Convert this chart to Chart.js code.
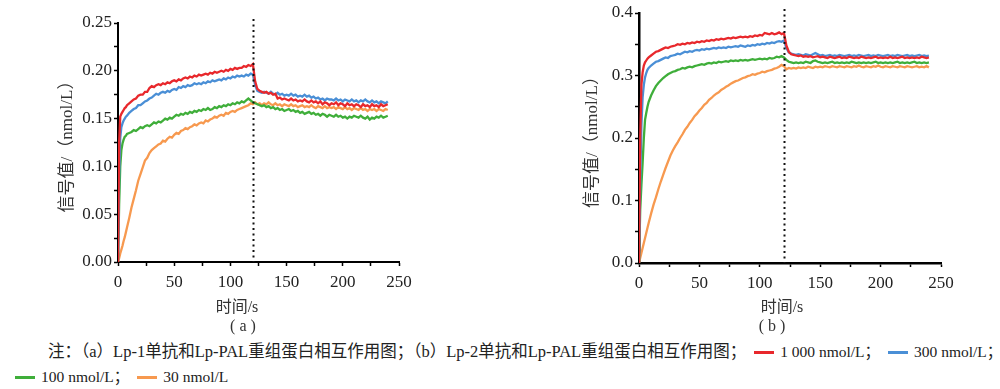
<!DOCTYPE html>
<html>
<head>
<meta charset="utf-8">
<script src="https://cdn.jsdelivr.net/npm/chart.js@4.4.1/dist/chart.umd.min.js"></script>
<style>
  body { margin:0; width:1000px; height:389px; background:#fff; position:relative; overflow:hidden;
         font-family:'Liberation Serif','Times New Roman','Noto Sans CJK SC',serif; color:#222; }
  canvas { position:absolute; top:0; }
  .lbl { position:absolute; transform:translate(-50%,-50%); font-size:16px; white-space:nowrap; color:#333; }
  .cap { position:absolute; font-size:16.5px; line-height:20px; white-space:nowrap; color:#222; }
  .cap .it { font-size:15.5px; }
  .sw { display:inline-block; width:20px; height:3px; vertical-align:middle; margin:0 6px 2px 8px; }
</style>
</head>
<body>
<canvas id="chartA" width="420" height="300" style="left:0px"></canvas>
<canvas id="chartB" width="440" height="300" style="left:520px"></canvas>
<div class="lbl" style="left:237px;top:305px">时间/s</div>
<div class="lbl" style="left:243px;top:326px">( a )</div>
<div class="lbl" style="left:782px;top:305px">时间/s</div>
<div class="lbl" style="left:772px;top:326px">( b )</div>
<div class="cap" id="cap1" style="left:48px;top:342px"></div>
<div class="cap" id="cap2" style="left:7px;top:367px"></div>
<script>
// time axis (s), shared by every curve
var times = [0,1,2,3,4,5,6,7,8,
  10,12,14,16,18,20,22,24,26,28, 30,32,34,36,38,40,42,44,46,48, 50,52,54,56,58,60,62,64,66,68,
  70,72,74,76,78,80,82,84,86,88, 90,92,94,96,98,100,102,104,106,108, 110,112,114,116,118,120,122,124,126,128,
  130,132,134,136,138,140,142,144,146,148, 150,152,154,156,158,160,162,164,166,168, 170,172,174,176,178,180,182,184,186,188,
  190,192,194,196,198,200,202,204,206,208, 210,212,214,216,218,220,222,224,226,228, 230,232,234,236,238,240];

var switchTime = 120;

var seriesLabels = ['1 000 nmol/L', '300 nmol/L', '100 nmol/L', '30 nmol/L'];
var seriesColors = ['#e8282c', '#4a8fd6', '#3fae3a', '#f7994f'];

// (a) Lp-1
var a1000 = [0,0.125,0.152,0.155,0.157,0.159,0.161,0.162,0.164,
  0.166,0.168,0.170,0.171,0.174,0.175,0.175,0.178,0.178,0.182,
  0.184,0.183,0.185,0.186,0.185,0.187,0.186,0.188,0.187,0.189,
  0.190,0.189,0.191,0.190,0.192,0.193,0.192,0.194,0.193,0.195,
  0.194,0.196,0.195,0.196,0.197,0.196,0.198,0.197,0.199,0.198,
  0.199,0.200,0.199,0.201,0.200,0.202,0.201,0.203,0.202,0.203,
  0.203,0.205,0.204,0.206,0.205,0.207,0.189,0.181,0.179,0.178,
  0.177,0.178,0.176,0.177,0.175,0.176,0.171,0.172,0.170,0.171,
  0.170,0.169,0.171,0.169,0.170,0.168,0.169,0.168,0.170,0.168,
  0.167,0.169,0.167,0.168,0.166,0.168,0.165,0.167,0.166,0.164,
  0.166,0.165,0.167,0.164,0.166,0.165,0.163,0.166,0.164,0.165,
  0.163,0.165,0.164,0.162,0.165,0.163,0.164,0.162,0.165,0.163,
  0.164,0.162,0.165,0.163,0.164,0.165];
var a300 = [0,0.090,0.130,0.141,0.145,0.148,0.150,0.152,0.153,
  0.156,0.158,0.160,0.161,0.164,0.164,0.166,0.168,0.169,0.171,
  0.172,0.174,0.176,0.175,0.177,0.178,0.177,0.179,0.178,0.180,
  0.181,0.180,0.183,0.182,0.184,0.183,0.185,0.184,0.185,0.187,
  0.186,0.187,0.186,0.188,0.187,0.189,0.188,0.190,0.189,0.190,
  0.191,0.190,0.192,0.191,0.193,0.192,0.194,0.193,0.195,0.194,
  0.195,0.194,0.196,0.195,0.197,0.196,0.185,0.179,0.178,0.177,
  0.178,0.177,0.176,0.178,0.176,0.175,0.177,0.175,0.176,0.174,
  0.175,0.174,0.176,0.174,0.175,0.173,0.174,0.173,0.175,0.173,
  0.174,0.172,0.173,0.171,0.172,0.170,0.171,0.169,0.171,0.170,
  0.170,0.169,0.171,0.169,0.170,0.168,0.170,0.169,0.168,0.170,
  0.168,0.169,0.167,0.169,0.168,0.170,0.168,0.167,0.169,0.167,
  0.168,0.166,0.168,0.167,0.166,0.168];
var a100 = [0,0.060,0.100,0.117,0.124,0.128,0.131,0.132,0.134,
  0.135,0.136,0.138,0.137,0.139,0.141,0.140,0.142,0.143,0.142,
  0.144,0.146,0.145,0.147,0.146,0.148,0.150,0.149,0.151,0.150,
  0.152,0.154,0.153,0.155,0.154,0.156,0.155,0.157,0.156,0.158,
  0.157,0.159,0.158,0.160,0.159,0.161,0.159,0.160,0.162,0.161,
  0.163,0.162,0.164,0.163,0.165,0.164,0.166,0.165,0.167,0.166,
  0.168,0.167,0.169,0.171,0.169,0.167,0.166,0.165,0.164,0.163,
  0.164,0.162,0.163,0.161,0.162,0.160,0.161,0.159,0.160,0.158,
  0.159,0.160,0.158,0.159,0.157,0.158,0.156,0.157,0.155,0.156,
  0.157,0.155,0.156,0.154,0.155,0.153,0.155,0.154,0.152,0.154,
  0.153,0.152,0.154,0.152,0.153,0.151,0.152,0.150,0.152,0.151,
  0.153,0.152,0.151,0.153,0.151,0.150,0.152,0.149,0.151,0.150,
  0.152,0.151,0.153,0.151,0.152,0.153];
var a30 = [0,0.004,0.009,0.013,0.017,0.022,0.026,0.031,0.036,
  0.046,0.057,0.066,0.075,0.085,0.092,0.099,0.106,0.109,0.114,
  0.117,0.119,0.121,0.123,0.124,0.127,0.126,0.129,0.131,0.130,
  0.133,0.135,0.134,0.137,0.138,0.140,0.139,0.141,0.142,0.144,
  0.143,0.145,0.146,0.145,0.148,0.147,0.149,0.150,0.152,0.151,
  0.153,0.154,0.153,0.156,0.155,0.157,0.158,0.157,0.159,0.160,
  0.161,0.162,0.163,0.164,0.166,0.165,0.167,0.165,0.166,0.164,
  0.166,0.165,0.167,0.165,0.164,0.166,0.164,0.165,0.163,0.165,
  0.164,0.163,0.165,0.163,0.164,0.162,0.163,0.164,0.162,0.163,
  0.162,0.164,0.162,0.161,0.163,0.162,0.161,0.163,0.161,0.162,
  0.161,0.162,0.160,0.162,0.161,0.160,0.162,0.160,0.161,0.159,
  0.161,0.160,0.159,0.161,0.159,0.160,0.158,0.160,0.159,0.160,
  0.158,0.160,0.159,0.158,0.160,0.159];

// (b) Lp-2
var b1000 = [0,0.200,0.285,0.305,0.316,0.321,0.324,0.327,0.329,
  0.332,0.335,0.338,0.339,0.341,0.343,0.345,0.344,0.346,0.347,
  0.348,0.350,0.349,0.351,0.350,0.352,0.351,0.353,0.352,0.354,
  0.353,0.355,0.354,0.356,0.355,0.357,0.356,0.358,0.357,0.359,
  0.358,0.359,0.360,0.359,0.361,0.360,0.361,0.362,0.361,0.362,
  0.361,0.363,0.362,0.364,0.363,0.365,0.364,0.368,0.367,0.366,
  0.368,0.366,0.367,0.369,0.366,0.368,0.348,0.338,0.334,0.333,
  0.332,0.331,0.332,0.330,0.331,0.330,0.331,0.329,0.330,0.331,
  0.329,0.330,0.329,0.328,0.330,0.329,0.328,0.329,0.330,0.328,
  0.329,0.328,0.330,0.329,0.328,0.329,0.328,0.330,0.329,0.328,
  0.329,0.328,0.329,0.330,0.328,0.329,0.328,0.329,0.328,0.330,
  0.328,0.329,0.328,0.329,0.330,0.328,0.329,0.328,0.329,0.328,
  0.329,0.328,0.330,0.329,0.328,0.329];
var b300 = [0,0.130,0.220,0.265,0.285,0.297,0.304,0.309,0.312,
  0.316,0.319,0.322,0.323,0.325,0.327,0.329,0.328,0.331,0.332,
  0.333,0.335,0.334,0.336,0.338,0.337,0.339,0.338,0.340,0.341,
  0.340,0.342,0.341,0.343,0.342,0.343,0.344,0.343,0.345,0.344,
  0.345,0.344,0.346,0.345,0.346,0.347,0.346,0.348,0.347,0.346,
  0.348,0.347,0.349,0.348,0.350,0.349,0.351,0.350,0.352,0.351,
  0.353,0.352,0.354,0.355,0.354,0.356,0.344,0.337,0.335,0.334,
  0.333,0.334,0.333,0.332,0.334,0.333,0.332,0.334,0.336,0.334,
  0.332,0.333,0.331,0.332,0.333,0.331,0.332,0.331,0.333,0.332,
  0.331,0.332,0.333,0.331,0.332,0.331,0.333,0.332,0.331,0.332,
  0.333,0.331,0.332,0.331,0.333,0.332,0.331,0.332,0.333,0.331,
  0.332,0.331,0.333,0.332,0.331,0.332,0.333,0.331,0.332,0.331,
  0.332,0.333,0.331,0.332,0.331,0.332];
var b100 = [0,0.085,0.125,0.160,0.200,0.229,0.240,0.250,0.258,
  0.268,0.276,0.283,0.288,0.292,0.296,0.299,0.302,0.304,0.306,
  0.307,0.309,0.310,0.312,0.311,0.313,0.314,0.313,0.315,0.316,
  0.317,0.318,0.317,0.319,0.320,0.319,0.321,0.320,0.322,0.321,
  0.322,0.323,0.322,0.324,0.323,0.324,0.323,0.325,0.324,0.325,
  0.324,0.325,0.326,0.325,0.326,0.327,0.326,0.327,0.326,0.328,
  0.327,0.328,0.330,0.329,0.331,0.329,0.325,0.322,0.321,0.320,
  0.321,0.320,0.321,0.320,0.322,0.321,0.320,0.323,0.324,0.322,
  0.321,0.320,0.321,0.320,0.321,0.322,0.320,0.321,0.320,0.321,
  0.320,0.321,0.320,0.322,0.321,0.320,0.321,0.320,0.321,0.320,
  0.321,0.320,0.321,0.322,0.320,0.321,0.320,0.321,0.320,0.321,
  0.320,0.321,0.322,0.320,0.321,0.320,0.321,0.320,0.321,0.322,
  0.320,0.321,0.320,0.321,0.320,0.321];
var b30 = [0,0.008,0.016,0.024,0.032,0.040,0.048,0.056,0.064,
  0.079,0.093,0.105,0.118,0.130,0.141,0.152,0.162,0.172,0.180,
  0.187,0.193,0.200,0.206,0.213,0.218,0.224,0.229,0.235,0.239,
  0.244,0.248,0.253,0.256,0.261,0.264,0.268,0.271,0.273,0.277,
  0.279,0.282,0.284,0.287,0.289,0.291,0.292,0.294,0.296,0.297,
  0.299,0.300,0.302,0.301,0.303,0.304,0.306,0.305,0.307,0.308,
  0.309,0.311,0.312,0.314,0.317,0.315,0.310,0.312,0.311,0.312,
  0.311,0.313,0.312,0.313,0.312,0.314,0.313,0.312,0.314,0.313,
  0.314,0.313,0.315,0.314,0.313,0.315,0.314,0.313,0.315,0.314,
  0.313,0.315,0.314,0.313,0.315,0.314,0.316,0.314,0.313,0.315,
  0.314,0.313,0.315,0.314,0.316,0.314,0.313,0.315,0.314,0.313,
  0.315,0.314,0.313,0.315,0.314,0.313,0.315,0.314,0.313,0.314,
  0.315,0.313,0.314,0.313,0.315,0.313];

var yTicksA = [0, 0.05, 0.10, 0.15, 0.20, 0.25];
var yTicksB = [0, 0.1, 0.2, 0.3, 0.4];
var xTicks = [0, 50, 100, 150, 200, 250];

var FONT = "'Liberation Serif','Times New Roman','Noto Sans CJK SC',serif";

function pts(vals) {
  return times.map(function (t, i) { return { x: t, y: vals[i] }; });
}

function isMajor(v, list) {
  return list.some(function (m) { return Math.abs(m - v) < 1e-6; });
}

var switchLine = {
  id: 'switchLine',
  afterDatasetsDraw: function (chart) {
    var ctx = chart.ctx, area = chart.chartArea;
    var x = Math.round(chart.scales.x.getPixelForValue(switchTime)) + 0.5;
    ctx.save();
    ctx.strokeStyle = '#111';
    ctx.lineWidth = 2;
    ctx.setLineDash([2, 3.5]);
    ctx.beginPath();
    ctx.moveTo(x, area.top - 4);
    ctx.lineTo(x, area.bottom);
    ctx.stroke();
    ctx.restore();
  }
};

function makeChart(id, data, yMax, yStep, yMajors, digits, box) {
  var sets = data.map(function (vals, i) {
    return {
      label: seriesLabels[i], data: pts(vals),
      borderColor: seriesColors[i], borderWidth: 2.3,
      pointRadius: 0, tension: 0, fill: false
    };
  });
  return new Chart(document.getElementById(id), {
    type: 'line',
    data: { datasets: sets },
    plugins: [switchLine],
    options: {
      responsive: false, animation: false,
      layout: { padding: { top: box.top, right: box.right, left: 0, bottom: 0 } },
      plugins: { legend: { display: false }, tooltip: { enabled: false } },
      scales: {
        x: {
          type: 'linear', min: 0, max: 250,
          afterFit: function (s) { s.height = box.xh; },
          border: { display: true, color: '#000', width: box.axisW },
          grid: { drawOnChartArea: false, drawTicks: true, tickLength: 4, tickColor: '#000', tickWidth: 1.5 },
          ticks: {
            stepSize: 25, padding: 6, color: '#222', maxRotation: 0, autoSkip: false,
            font: { family: FONT, size: 17 },
            callback: function (v) { return isMajor(v, xTicks) ? String(v) : ''; }
          }
        },
        y: {
          type: 'linear', min: 0, max: yMax,
          afterFit: function (s) { s.width = box.yw; },
          border: { display: true, color: '#000', width: box.axisW },
          grid: { drawOnChartArea: false, drawTicks: true, tickLength: 4, tickColor: '#000', tickWidth: 1.5 },
          ticks: {
            stepSize: yStep, padding: 2, color: '#222', autoSkip: false,
            font: { family: FONT, size: 17 },
            callback: function (v) { return isMajor(v, yMajors) ? v.toFixed(digits) : ''; }
          },
          title: {
            display: true, text: '信号值/（nmol/L）', color: '#333',
            font: { family: FONT, size: 17 },
            padding: { top: box.titlePad, bottom: 0 }
          }
        }
      }
    }
  });
}

makeChart('chartA', [a1000, a300, a100, a30], 0.25, 0.025, yTicksA, 2,
  { top: 23, right: 21, yw: 118, xh: 38, axisW: 2, titlePad: 57 });
makeChart('chartB', [b1000, b300, b100, b30], 0.4, 0.05, yTicksB, 1,
  { top: 13, right: 19, yw: 119, xh: 37, axisW: 2.5, titlePad: 62 });

function legendItem(i) {
  return '<span class="sw" style="background:' + seriesColors[i] + '"></span><span class="it">' + seriesLabels[i] + '；</span>';
}
document.getElementById('cap1').innerHTML =
  '注：（a）Lp-1单抗和Lp-PAL重组蛋白相互作用图；（b）Lp-2单抗和Lp-PAL重组蛋白相互作用图；' +
  legendItem(0) + legendItem(1);
document.getElementById('cap2').innerHTML = legendItem(2) +
  '<span class="sw" style="background:' + seriesColors[3] + '"></span><span class="it">' + seriesLabels[3] + '</span>';
</script>
</body>
</html>
